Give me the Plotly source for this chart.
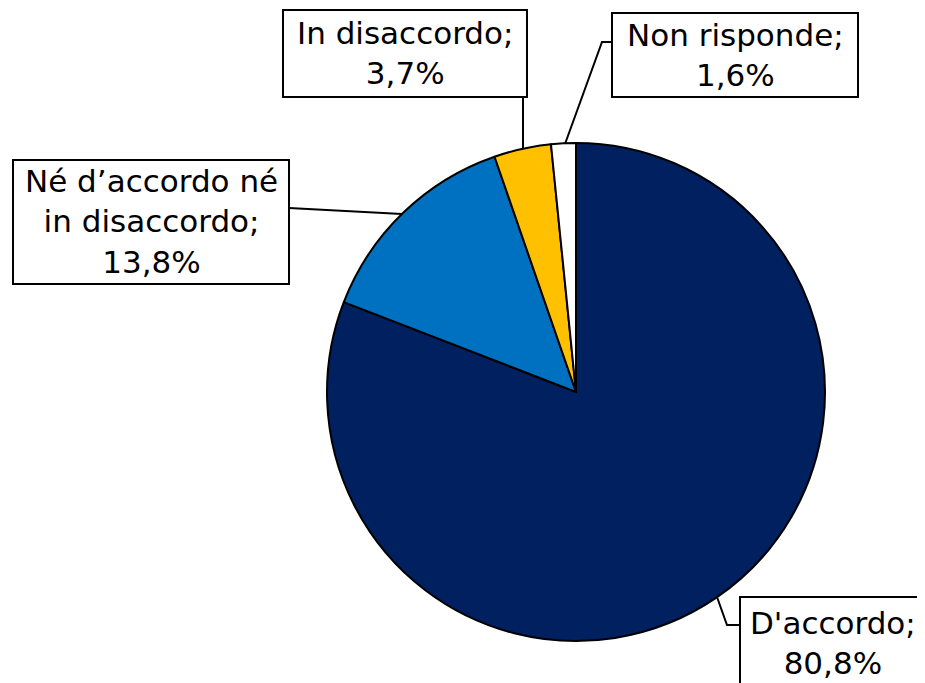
import plotly.graph_objects as go

categories = ["D'accordo", "Né d’accordo né in disaccordo", "In disaccordo", "Non risponde"]
values = [80.8, 13.8, 3.7, 1.6]
value_labels = ["80,8%", "13,8%", "3,7%", "1,6%"]
colors = ["#002060", "#0070C0", "#FFC000", "#FFFFFF"]

W, H = 925, 683
OX, OY = 8, 8  # page body margin offset

def px(x, y):
    return (x - OX) / W, 1 - (y - OY) / H

cx0, cy0 = px(327, 143)
cx1, cy1 = px(825, 641)

fig = go.Figure(go.Pie(
    labels=categories, values=values, sort=False, direction="clockwise", rotation=0,
    marker=dict(colors=colors, line=dict(color="black", width=2)),
    textinfo="none", hoverinfo="label+percent", showlegend=False,
    domain=dict(x=[cx0, cx1], y=[cy1, cy0]),
))

FONT = dict(family="DejaVu Sans", size=31, color="black")

boxes = [
    (740, 597, 940, 700, ["D'accordo;", value_labels[0]], [(717, 597), (727, 625), (740, 625)], (833, 643)),
    (13, 160, 289, 284, ["Né d’accordo né", "in disaccordo;", value_labels[1]], [(289, 208), (402, 214)], None),
    (283, 10, 527, 97, ["In disaccordo;", value_labels[2]], [(523, 97), (523, 149)], None),
    (612, 13, 858, 97, ["Non risponde;", value_labels[3]], [(612, 42), (602, 42), (565, 144)], None),
]

shapes = []
annotations = []
for x0, y0, x1, y1, lines, pts, tc in boxes:
    a0 = px(x0, y0); a1 = px(x1, y1)
    shapes.append(dict(type="rect", xref="paper", yref="paper", x0=a0[0], y0=a0[1], x1=a1[0], y1=a1[1],
                       line=dict(color="black", width=2), fillcolor="white", layer="above"))
    path = "M " + " L ".join(f"{px(x, y)[0]},{px(x, y)[1]}" for x, y in pts)
    shapes.append(dict(type="path", xref="paper", yref="paper", path=path,
                       line=dict(color="black", width=2), layer="above"))
    tx, ty = tc if tc else ((x0 + x1) / 2, (y0 + y1) / 2)
    p = px(tx, ty)
    annotations.append(dict(xref="paper", yref="paper", x=p[0], y=p[1],
                            text="<br>".join(lines), showarrow=False, font=FONT,
                            xanchor="center", yanchor="middle", align="center"))

fig.update_layout(
    width=W, height=H, margin=dict(l=0, r=0, t=0, b=0),
    paper_bgcolor="white", plot_bgcolor="white",
    shapes=shapes, annotations=annotations,
)
fig.write_html("out.html")
